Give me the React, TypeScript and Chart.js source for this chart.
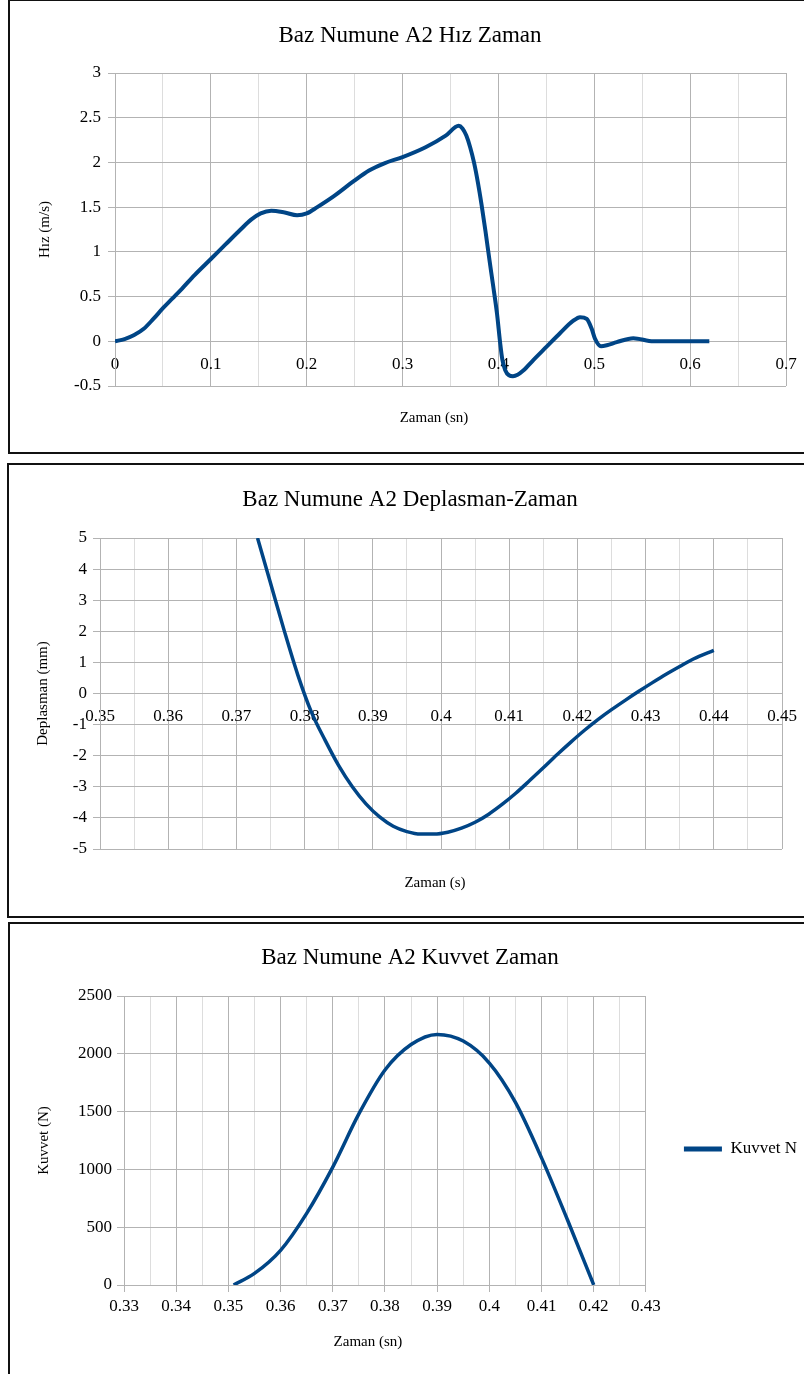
import React, { useEffect, useRef } from 'react';
import { Chart, registerables } from 'chart.js';

Chart.register(...registerables);

const SERIF = "'Liberation Serif', 'Times New Roman', Times, serif";
const SERIES_COLOR = '#004586';
const GRID_MAJOR = '#b3b3b3';
const GRID_MINOR = '#dddddd';
const TEXT_COLOR = '#000000';

// ---------- Chart 1: Hız - Zaman ----------
const hizTitle = 'Baz Numune A2 Hız Zaman';
const hizXTitle = 'Zaman (sn)';
const hizYTitle = 'Hız (m/s)';
const hizTime = [0, 0.01, 0.02, 0.03, 0.04, 0.05, 0.06, 0.07, 0.083, 0.1, 0.115, 0.131, 0.142, 0.152, 0.163, 0.177, 0.19, 0.2, 0.211, 0.228, 0.249, 0.265, 0.281, 0.3, 0.324, 0.345, 0.3585, 0.3625, 0.3665, 0.3705, 0.3745, 0.3785, 0.3825, 0.3865, 0.3905, 0.3945, 0.3985, 0.4016, 0.404, 0.407, 0.411, 0.4152, 0.42, 0.4256, 0.4364, 0.4503, 0.4642, 0.4781, 0.4851, 0.4921, 0.4973, 0.5007, 0.507, 0.513, 0.5234, 0.5407, 0.5616, 0.62];
const hizValues = [0, 0.025, 0.07, 0.14, 0.25, 0.37, 0.48, 0.59, 0.74, 0.92, 1.08, 1.25, 1.36, 1.43, 1.46, 1.44, 1.41, 1.43, 1.5, 1.62, 1.79, 1.91, 1.99, 2.06, 2.17, 2.3, 2.41, 2.38, 2.3, 2.17, 2.0, 1.78, 1.52, 1.23, 0.92, 0.62, 0.31, 0, -0.2, -0.32, -0.38, -0.39, -0.375, -0.33, -0.21, -0.06, 0.09, 0.23, 0.27, 0.25, 0.14, 0.03, -0.055, -0.045, -0.01, 0.035, 0, 0];
const hizXTicks = { min: 0, max: 0.7, step: 0.05, major: 0.1 };
const hizYTicks = { min: -0.5, max: 3, step: 0.5 };

// ---------- Chart 2: Deplasman - Zaman ----------
const depTitle = 'Baz Numune A2 Deplasman-Zaman';
const depXTitle = 'Zaman (s)';
const depYTitle = 'Deplasman (mm)';
const depTime = [0.3731, 0.375, 0.377, 0.379, 0.381, 0.383, 0.385, 0.387, 0.389, 0.391, 0.393, 0.395, 0.397, 0.399, 0.401, 0.403, 0.405, 0.407, 0.409, 0.411, 0.413, 0.415, 0.417, 0.419, 0.421, 0.423, 0.425, 0.427, 0.429, 0.431, 0.433, 0.435, 0.437, 0.44];
const depValues = [5.0, 3.55, 2.03, 0.6, -0.6, -1.5, -2.32, -3.0, -3.55, -3.97, -4.27, -4.44, -4.52, -4.52, -4.46, -4.33, -4.14, -3.88, -3.56, -3.2, -2.8, -2.39, -1.97, -1.57, -1.19, -0.84, -0.52, -0.22, 0.07, 0.35, 0.62, 0.87, 1.11, 1.39];
const depXTicks = { min: 0.35, max: 0.45, step: 0.005, major: 0.01 };
const depYTicks = { min: -5, max: 5, step: 1 };

// ---------- Chart 3: Kuvvet - Zaman ----------
const kuvTitle = 'Baz Numune A2 Kuvvet Zaman';
const kuvXTitle = 'Zaman (sn)';
const kuvYTitle = 'Kuvvet (N)';
const kuvSeries = 'Kuvvet N';
const kuvTime = [0.351, 0.355, 0.36, 0.365, 0.37, 0.375, 0.38, 0.385, 0.39, 0.395, 0.4, 0.405, 0.41, 0.415, 0.42];
const kuvValues = [0, 100, 300, 620, 1020, 1480, 1860, 2080, 2168, 2110, 1920, 1580, 1100, 560, 0];
const kuvXTicks = { min: 0.33, max: 0.43, step: 0.005, major: 0.01 };
const kuvYTicks = { min: 0, max: 2500, step: 500 };

const isMajor = (v: number, step: number) => Math.abs(v / step - Math.round(v / step)) < 1e-6;
const fmt = (v: number) => String(Number(Number(v).toFixed(4)));

// Draws the axis titles (x below the plot, y rotated at the left)
const axisTitlesPlugin = {
  id: 'axisTitles',
  afterDraw(chart: any, _args: any, opts: any) {
    if (!opts) return;
    const { ctx, chartArea } = chart;
    ctx.save();
    ctx.font = `${opts.size}px ${SERIF}`;
    ctx.fillStyle = TEXT_COLOR;
    ctx.textAlign = 'center';
    ctx.textBaseline = 'middle';
    if (opts.xText) {
      ctx.fillText(opts.xText, (chartArea.left + chartArea.right) / 2 + opts.xDx, chartArea.bottom + opts.xDy);
    }
    if (opts.yText) {
      ctx.translate(opts.yX, (chartArea.top + chartArea.bottom) / 2);
      ctx.rotate(-Math.PI / 2);
      ctx.fillText(opts.yText, 0, 0);
    }
    ctx.restore();
  },
};

type Spec = {
  left: number; top: number; width: number; height: number;
  title: string; xTitle: string; yTitle: string; seriesName: string;
  xs: number[]; ys: number[];
  xT: { min: number; max: number; step: number; major: number };
  yT: { min: number; max: number; step: number };
  xCentered: boolean;
  padLeft: number; padRight: number; padBottom: number;
  titleTop: number; titleBottom: number;
  yWidth: number; yTitleX: number; yTickLen: number; yTickPad: number;
  xTickLen: number; xTickPad: number; xHeight?: number;
  xTitleDx: number; xTitleDy: number;
  lineWidth: number; legend: boolean; legendPad?: number;
};

function buildConfig(s: Spec): any {
  const tickFont = { family: SERIF, size: 17 };
  return {
    type: 'line',
    data: {
      datasets: [
        {
          label: s.seriesName,
          data: s.xs.map((x, i) => ({ x, y: s.ys[i] })),
          borderColor: SERIES_COLOR,
          backgroundColor: SERIES_COLOR,
          borderWidth: s.lineWidth,
          pointRadius: 0,
          pointHoverRadius: 0,
          cubicInterpolationMode: 'monotone',
          fill: false,
        },
      ],
    },
    options: {
      responsive: false,
      animation: false,
      events: [],
      layout: { padding: { left: s.padLeft, top: 0, right: s.padRight, bottom: s.padBottom } },
      plugins: {
        title: {
          display: true,
          text: s.title,
          color: TEXT_COLOR,
          font: { family: SERIF, size: 23, weight: 'normal' },
          padding: { top: s.titleTop, bottom: s.titleBottom },
        },
        legend: s.legend
          ? {
              display: true,
              position: 'right',
              labels: {
                usePointStyle: true,
                pointStyle: 'line',
                pointStyleWidth: 38,
                padding: s.legendPad,
                color: TEXT_COLOR,
                font: { family: SERIF, size: 17 },
                generateLabels: (chart: any) =>
                  Chart.defaults.plugins.legend.labels.generateLabels(chart).map((l: any) => ({ ...l, lineWidth: 5 })),
              },
            }
          : { display: false },
        tooltip: { enabled: false },
        axisTitles: {
          size: 15,
          xText: s.xTitle, xDx: s.xTitleDx, xDy: s.xTitleDy,
          yText: s.yTitle, yX: s.yTitleX,
        },
      },
      scales: {
        x: {
          type: 'linear',
          min: s.xT.min,
          max: s.xT.max,
          position: s.xCentered ? { y: 0 } : 'bottom',
          ticks: {
            stepSize: s.xT.step,
            autoSkip: false,
            maxRotation: 0,
            minRotation: 0,
            padding: s.xTickPad,
            color: TEXT_COLOR,
            font: tickFont,
            callback: (v: number) => (isMajor(v, s.xT.major) ? fmt(v) : ''),
          },
          grid: {
            color: (c: any) => (c.tick && !isMajor(c.tick.value, s.xT.major) ? GRID_MINOR : GRID_MAJOR),
            tickColor: (c: any) => (c.tick && !isMajor(c.tick.value, s.xT.major) ? 'rgba(0,0,0,0)' : GRID_MAJOR),
            tickLength: s.xTickLen,
            lineWidth: 1,
          },
          border: { display: true, color: GRID_MAJOR },
          afterFit: s.xHeight !== undefined ? (sc: any) => { sc.height = s.xHeight; } : undefined,
        },
        y: {
          type: 'linear',
          min: s.yT.min,
          max: s.yT.max,
          ticks: {
            stepSize: s.yT.step,
            padding: s.yTickPad,
            color: TEXT_COLOR,
            font: tickFont,
            callback: (v: number) => fmt(v),
          },
          grid: { color: GRID_MAJOR, tickLength: s.yTickLen, lineWidth: 1 },
          border: { display: true, color: GRID_MAJOR },
          title: { display: false },
          afterFit: (sc: any) => { sc.width = s.yWidth; },
        },
      },
    },
    plugins: [axisTitlesPlugin],
  };
}

const specs: Spec[] = [
  {
    left: 10, top: 1, width: 800, height: 451,
    title: hizTitle, xTitle: hizXTitle, yTitle: hizYTitle, seriesName: 'Hız',
    xs: hizTime, ys: hizValues, xT: hizXTicks, yT: hizYTicks, xCentered: true,
    padLeft: 24, padRight: 24, padBottom: 66, titleTop: 21, titleBottom: 23.4,
    yWidth: 81, yTitleX: 35, yTickLen: 7, yTickPad: 7,
    xTickLen: 6, xTickPad: 7,
    xTitleDx: -16.5, xTitleDy: 32, lineWidth: 4, legend: false,
  },
  {
    left: 10, top: 464, width: 800, height: 452,
    title: depTitle, xTitle: depXTitle, yTitle: depYTitle, seriesName: 'Deplasman',
    xs: depTime, ys: depValues, xT: depXTicks, yT: depYTicks, xCentered: true,
    padLeft: 28, padRight: 28, padBottom: 67, titleTop: 22.2, titleBottom: 24.2,
    yWidth: 62, yTitleX: 33, yTickLen: 7, yTickPad: 6,
    xTickLen: 6, xTickPad: 7,
    xTitleDx: -6, xTitleDy: 34.5, lineWidth: 3.5, legend: false,
  },
  {
    left: 10, top: 924, width: 800, height: 450,
    title: kuvTitle, xTitle: kuvXTitle, yTitle: kuvYTitle, seriesName: kuvSeries,
    xs: kuvTime, ys: kuvValues, xT: kuvXTicks, yT: kuvYTicks, xCentered: false,
    padLeft: 3, padRight: 3, padBottom: 0, titleTop: 20.2, titleBottom: 24.2,
    yWidth: 111, yTitleX: 34, yTickLen: 7, yTickPad: 5,
    xTickLen: 7, xTickPad: 4.5, xHeight: 89,
    xTitleDx: -17, xTitleDy: 56.7, lineWidth: 3.5, legend: true, legendPad: 38,
  },
];

function ChartCanvas({ spec }: { spec: Spec }) {
  const ref = useRef<HTMLCanvasElement>(null);
  useEffect(() => {
    if (!ref.current) return;
    const chart = new Chart(ref.current, buildConfig(spec));
    return () => chart.destroy();
  }, [spec]);
  return (
    <canvas
      ref={ref}
      width={spec.width}
      height={spec.height}
      style={{ position: 'absolute', left: spec.left, top: spec.top, width: spec.width, height: spec.height }}
    />
  );
}

const boxes = [
  { left: 8, top: -1, height: 455 },
  { left: 7, top: 463, height: 455 },
  { left: 8, top: 922, height: 470 },
];

export default function App() {
  return (
    <div
      style={{
        position: 'fixed', left: 0, top: 0, width: 804, height: 1374,
        overflow: 'hidden', background: '#ffffff',
      }}
    >
      {boxes.map((b, i) => (
        <div
          key={i}
          style={{
            position: 'absolute', left: b.left, top: b.top, width: 830, height: b.height,
            boxSizing: 'border-box', border: '2px solid #111',
          }}
        />
      ))}
      {specs.map((s, i) => (
        <ChartCanvas key={i} spec={s} />
      ))}
    </div>
  );
}
